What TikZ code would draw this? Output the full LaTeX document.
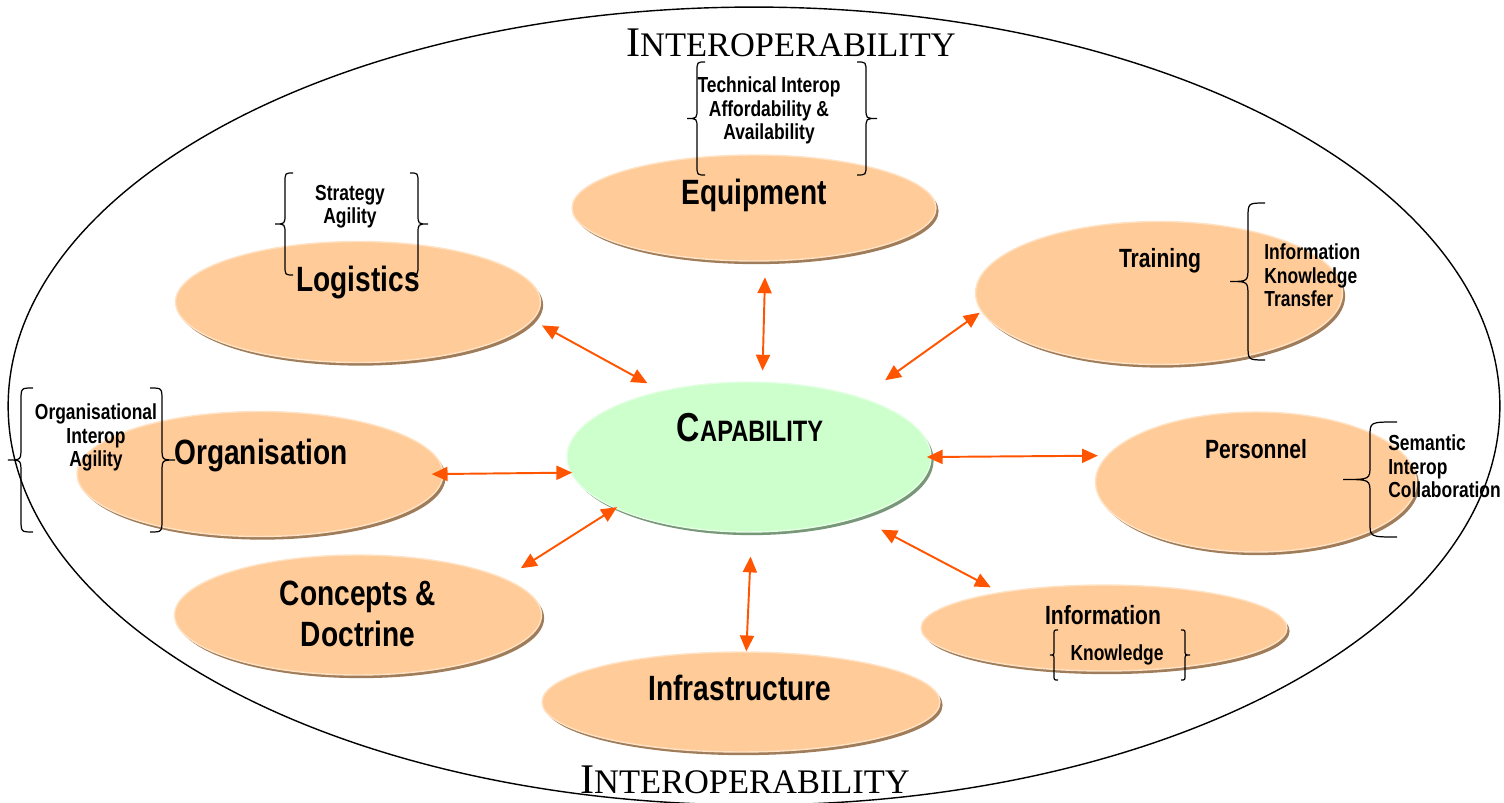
\documentclass[tikz,border=0pt]{standalone}
\usepackage{fontspec}
\setmainfont{Liberation Serif}
\newfontfamily\narrowsans[FakeStretch=0.8]{Liberation Sans}
\usetikzlibrary{shapes.geometric, shadows, arrows.meta}

\definecolor{peach}{RGB}{255,204,153}
\definecolor{peachrim}{RGB}{255,226,196}
\definecolor{peachshade}{RGB}{160,125,90}
\definecolor{mint}{RGB}{204,255,204}
\definecolor{mintrim}{RGB}{228,255,228}
\definecolor{mintshade}{RGB}{120,150,120}
\definecolor{arrowred}{RGB}{255,85,0}

% curly bracket: body x, top y, bottom y, hook, tip, curl height
\newcommand\curly[6]{%
  \draw[brace line] ({#1+#4},#2) .. controls (#1,#2) .. (#1,{#2+#6})
    -- (#1,{(#2+#3)/2-#6}) .. controls (#1,{(#2+#3)/2}) .. ({#1-#5},{(#2+#3)/2})
    .. controls (#1,{(#2+#3)/2}) .. (#1,{(#2+#3)/2+#6})
    -- (#1,{#3-#6}) .. controls (#1,#3) .. ({#1+#4},#3);}

\begin{document}
\begin{tikzpicture}[x=0.02cm, y=-0.02cm,
    area/.style={ellipse, fill=peach, draw=peachrim, line width=0.8pt, inner sep=0pt,
      drop shadow={shadow xshift=1.5pt, shadow yshift=-1.8pt, fill=peachshade, opacity=1}},
    core/.style={ellipse, fill=mint, draw=mintrim, line width=0.8pt, inner sep=0pt,
      drop shadow={shadow xshift=1.5pt, shadow yshift=-1.8pt, fill=mintshade, opacity=1}},
    title/.style={font=\narrowsans\bfseries\fontsize{20}{23}\selectfont, anchor=base, inner sep=0pt, align=center},
    midtitle/.style={font=\narrowsans\bfseries\fontsize{15}{18}\selectfont, anchor=base, inner sep=0pt},
    note/.style={font=\narrowsans\bfseries\fontsize{12.4}{13.5}\selectfont, anchor=base, inner sep=0pt, align=center},
    caps/.style={font=\fontsize{19.6}{20}\selectfont, anchor=base, inner sep=0pt},
    link/.style={draw=arrowred, line width=1.1pt, {Triangle[length=9pt,width=8pt]}-{Triangle[length=9pt,width=8pt]}},
    brace line/.style={line width=0.7pt}]
  \useasboundingbox (0,0) rectangle (1504,803);
  % outer boundary
  \node[draw, ellipse, line width=0.8pt, minimum width=29.84cm, minimum height=15.96cm] (interop) at (754,406) {};
  \node[caps] (top-label) at (791,57) {{\fontsize{24}{24}\selectfont I}NTEROPERABILITY};
  \node[caps] (bottom-label) at (745,793) {{\fontsize{24}{24}\selectfont I}NTEROPERABILITY};

  % the nine areas
  \node[area, minimum width=7.28cm, minimum height=2.12cm] (equip) at (754,208) {};
  \node[area, minimum width=7.30cm, minimum height=2.42cm] (logi) at (358,302) {};
  \node[area, minimum width=7.34cm, minimum height=2.86cm] (train) at (1159,293) {};
  \node[area, minimum width=7.32cm, minimum height=2.50cm] (orga) at (260,474) {};
  \node[core, minimum width=7.28cm, minimum height=3.00cm] (capa) at (749,457) {};
  \node[area, minimum width=6.42cm, minimum height=2.80cm] (pers) at (1256,482) {};
  \node[area, minimum width=7.34cm, minimum height=2.40cm] (conc) at (358,615) {};
  \node[area, minimum width=7.32cm, minimum height=1.72cm] (info) at (1104,628) {};
  \node[area, minimum width=7.96cm, minimum height=2.00cm] (infra) at (741,702) {};

  % names
  \node[title] (equip-name) at (754,205) {Equipment};
  \node[title] (logi-name) at (358,292) {Logistics};
  \node[midtitle] (train-name) at (1160,268) {Training};
  \node[title] (orga-name) at (261,465) {Organisation};
  \node[midtitle, font=\narrowsans\bfseries\fontsize{16.8}{18}\selectfont] (capa-name) at (750,442) {{\fontsize{23}{23}\selectfont C}APABILITY};
  \node[midtitle] (pers-name) at (1256,459) {Personnel};
  \node[title] (conc-name) at (358,646) {Concepts \&\\Doctrine};
  \node[midtitle] (info-name) at (1103,624) {Information};
  \node[title] (infra-name) at (740,700) {Infrastructure};

  % bracketed notes
  \node[note] (equip-note) at (769,140) {Technical Interop\\Affordability \&\\Availability};
  \curly{697}{62}{175}{8}{10}{10}
  \curly{866}{62}{175}{-9}{-11}{10}
  \node[note] (logi-note) at (350,224) {Strategy\\Agility};
  \curly{285}{173}{275}{8}{10}{10}
  \curly{418}{173}{275}{-8}{-10}{10}
  \node[note, anchor=base west, align=left] (train-note) at (1264,307) {Information\\Knowledge\\Transfer};
  \curly{1248}{203}{360}{17}{18}{15}
  \node[note] (orga-note) at (96,467) {Organisational\\Interop\\Agility};
  \curly{21}{388}{532}{12}{13}{13}
  \curly{162}{388}{532}{-12}{-13}{13}
  \node[note, anchor=base west, align=left] (pers-note) at (1388,498) {Semantic\\Interop\\Collaboration};
  \curly{1370}{422}{537}{27}{27}{14}
  \node[note] (info-note) at (1117,660) {Knowledge};
  \curly{1054}{630}{680}{4}{4}{5}
  \curly{1185}{630}{680}{-4}{-5}{5}

  % links to the capability
  \draw[link, shorten <=6pt, shorten >=8.8pt] (logi.-6.5) -- (capa.143);
  \draw[link, shorten <=9pt, shorten >=6.2pt] (equip.-78.5) -- (capa.80.8);
  \draw[link, shorten <=1pt, shorten >=16.7pt] (train.186.6) -- (capa.28);
  \draw[link, shorten <=-6.8pt, shorten >=-1.1pt] (orga.0.5) -- (capa.185);
  \draw[link, shorten <=4.9pt, shorten >=-2.8pt] (pers.170) -- (capa.0);
  \draw[link, shorten <=10.8pt, shorten >=-1.4pt] (conc.14.5) -- (capa.201.6);
  \draw[link, shorten <=0pt, shorten >=13.6pt] (infra.84) -- (capa.-88.8);
  \draw[link, shorten <=5.7pt, shorten >=14.7pt] (info.161.6) -- (capa.-29.1);
\end{tikzpicture}
\end{document}
